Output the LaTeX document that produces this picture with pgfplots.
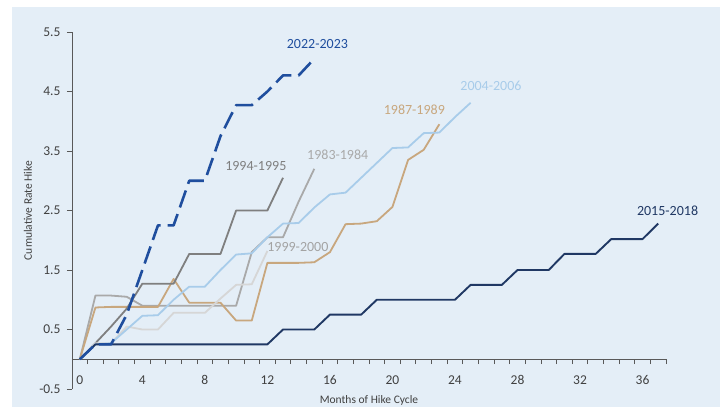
\documentclass[border=0pt]{standalone}
\usepackage{pgfplots}
\pgfplotsset{compat=1.18}
\usepackage{fontspec}
\setmainfont{Carlito}
\definecolor{bgc}{HTML}{E4EEF7}
\definecolor{axisc}{HTML}{595959}
\definecolor{tickc}{HTML}{404040}
\definecolor{c2022}{HTML}{1F4E9E}
\definecolor{c2015}{HTML}{203864}
\definecolor{c1994}{HTML}{7F7F7F}
\definecolor{c1983}{HTML}{A9A9A9}
\definecolor{c1999}{HTML}{D6D6D6}
\definecolor{l1999}{HTML}{A3A3A3}
\definecolor{c1987}{HTML}{C8A77E}
\definecolor{c2004}{HTML}{A8CCEA}
\begin{document}
\begin{tikzpicture}
\fill[white] (-72bp,-18bp) rectangle (651bp,389bp);
\path[use as bounding box] (-72bp,-18bp) rectangle (651bp,389bp);
\fill[bgc] (-60bp,-18bp) rectangle (648bp,382bp);
\begin{axis}[
  scale only axis, width=594bp, height=357bp,
  xmin=-0.5, xmax=37.5, ymin=-0.5, ymax=5.5,
  axis x line=middle, axis y line=left,
  axis line style={-, draw=axisc, line width=0.9bp},
  xtick={0,4,8,12,16,20,24,28,32,36},
  minor xtick={0.5,1.5,...,37.5},
  ytick={-0.5,0.5,1.5,2.5,3.5,4.5,5.5},
  yticklabels={-0.5,0.5,1.5,2.5,3.5,4.5,5.5},
  tick align=outside, major tick length=5bp, minor tick length=5bp,
  major x tick style={draw=none},
  tick style={draw=axisc, line width=0.8bp},
  ticklabel style={font=\fontsize{13.5bp}{15bp}\selectfont, text=tickc},
  xticklabel style={yshift=-8bp},
  yticklabel style={xshift=-3bp},
  /pgf/number format/assume math mode=true,
  xlabel={Months of Hike Cycle}, ylabel={Cumulative Rate Hike},
  label style={font=\fontsize{11.5bp}{13bp}\selectfont, text=tickc},
  xlabel style={at={(axis description cs:0.5,-0.031)}, anchor=center},
  ylabel style={at={(axis description cs:-0.074,0.5)}, anchor=center},
  clip=false,
  every axis plot/.append style={line join=round, no marks},
]
% 1983-1984
\addplot[c1983, line width=1.8bp] coordinates {(0,0)(1,1.07)(2,1.07)(3,1.05)(4,0.9)(5,0.9)(6,0.9)(7,0.9)(8,0.9)(9,0.9)(10,0.9)(11,1.8)(12,2.05)(13,2.05)(14,2.65)(15,3.2)};
% 1987-1989
\addplot[c1987, line width=1.8bp] coordinates {(0,0)(1,0.87)(2,0.88)(3,0.88)(4,0.88)(5,0.88)(6,1.35)(7,0.95)(8,0.95)(9,0.95)(10,0.65)(11,0.65)(12,1.62)(13,1.62)(14,1.62)(15,1.63)(16,1.8)(17,2.27)(18,2.28)(19,2.32)(20,2.56)(21,3.35)(22,3.52)(23,3.95)};
% 1994-1995
\addplot[c1994, line width=1.8bp] coordinates {(0,0)(1,0.27)(2,0.55)(3,0.85)(4,1.27)(5,1.27)(6,1.27)(7,1.77)(8,1.77)(9,1.77)(10,2.5)(11,2.5)(12,2.5)(13,3.05)};
% 1999-2000
\addplot[c1999, line width=1.8bp] coordinates {(0,0)(1,0.27)(2,0.27)(3,0.55)(4,0.5)(5,0.5)(6,0.78)(7,0.78)(8,0.78)(9,1.02)(10,1.25)(11,1.26)(12,1.82)};
% 2004-2006
\addplot[c2004, line width=1.8bp] coordinates {(0,0)(1,0.25)(2,0.27)(3,0.5)(4,0.73)(5,0.74)(6,1.0)(7,1.22)(8,1.22)(9,1.5)(10,1.76)(11,1.78)(12,2.05)(13,2.28)(14,2.29)(15,2.55)(16,2.77)(17,2.8)(18,3.05)(19,3.3)(20,3.55)(21,3.56)(22,3.8)(23,3.81)(24,4.07)(25,4.31)};
% 2015-2018
\addplot[c2015, line width=1.9bp] coordinates {(0,0)(1,0.25)(2,0.25)(3,0.25)(4,0.25)(5,0.25)(6,0.25)(7,0.25)(8,0.25)(9,0.25)(10,0.25)(11,0.25)(12,0.25)(13,0.5)(14,0.5)(15,0.5)(16,0.75)(17,0.75)(18,0.75)(19,1.0)(20,1.0)(21,1.0)(22,1.0)(23,1.0)(24,1.0)(25,1.25)(26,1.25)(27,1.25)(28,1.5)(29,1.5)(30,1.5)(31,1.77)(32,1.77)(33,1.77)(34,2.02)(35,2.02)(36,2.02)(37,2.28)};
% 2022-2023
\addplot[c2022, line width=2.6bp, dash pattern=on 18bp off 7bp] coordinates {(0,0)(1,0.25)(2,0.25)(3,0.75)(4,1.5)(5,2.25)(6,2.25)(7,3.0)(8,3.0)(9,3.75)(10,4.27)(11,4.27)(12,4.5)(13,4.77)(14,4.77)(15,5.05)};
\begin{scope}[every node/.style={font=\fontsize{14bp}{16bp}\selectfont, anchor=center}]
\node[text=c2022] at (axis cs:15.2,5.29) {2022-2023};
\node[text=c1994] at (axis cs:11.26,3.24) {1994-1995};
\node[text=c1983] at (axis cs:16.5,3.44) {1983-1984};
\node[text=c2004] at (axis cs:26.3,4.59) {2004-2006};
\node[text=c1987] at (axis cs:21.4,4.2) {1987-1989};
\node[text=l1999] at (axis cs:13.95,1.89) {1999-2000};
\node[text=c2015] at (axis cs:37.6,2.5) {2015-2018};
\end{scope}
\end{axis}
\end{tikzpicture}
\end{document}
